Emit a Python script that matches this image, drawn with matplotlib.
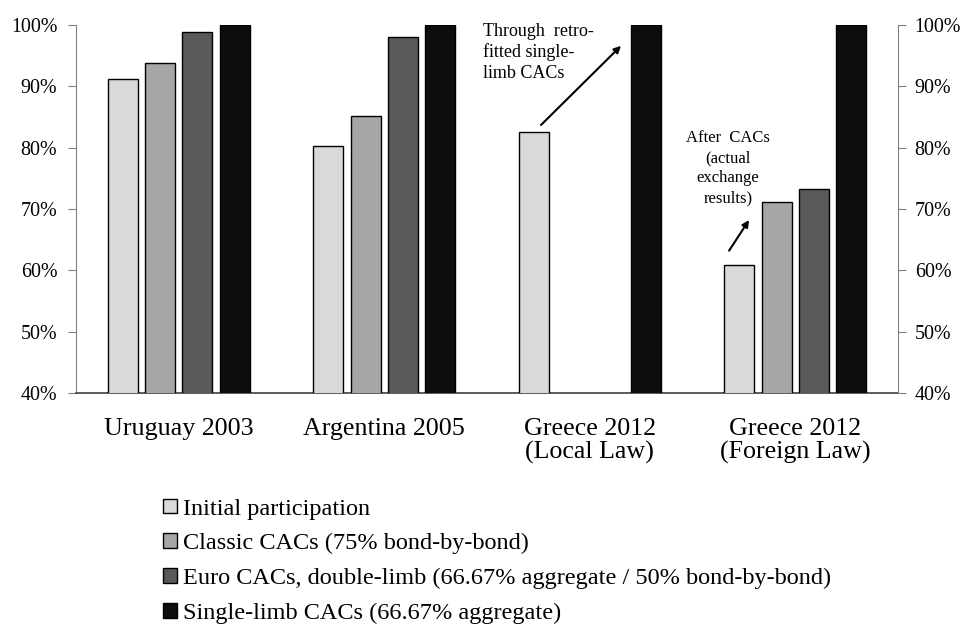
import numpy as np
import matplotlib.pyplot as plt
from matplotlib.ticker import PercentFormatter

plt.rcParams['font.family'] = ['Liberation Serif', 'DejaVu Serif']

categories = ['Uruguay 2003', 'Argentina 2005', 'Greece 2012\n(Local Law)', 'Greece 2012\n(Foreign Law)']
series_names = ['Initial participation',
                'Classic CACs (75% bond-by-bond)',
                'Euro CACs, double-limb (66.67% aggregate / 50% bond-by-bond)',
                'Single-limb CACs (66.67% aggregate)']
initial = [91.2, 80.2, 82.6, 60.9]
classic = [93.8, 85.2, np.nan, 71.1]
euro = [98.9, 98.0, np.nan, 73.3]
single = [100.0, 100.0, 100.0, 100.0]
colors = ['#d9d9d9', '#a6a6a6', '#595959', '#0d0d0d']
yticks = [40, 50, 60, 70, 80, 90, 100]

fig = plt.figure(figsize=(9.62, 6.24), dpi=100)
ax = fig.add_axes([0.079, 0.3702, 0.8545, 0.5898])

x = np.arange(len(categories))
width = 0.146
step = 0.1815
handles = []
for i, (vals, c, name) in enumerate(zip([initial, classic, euro, single], colors, series_names)):
    b = ax.bar(x + (i - 1.5) * step, vals, width, bottom=0, color=c, edgecolor='black',
               linewidth=1.0, label=name, zorder=3)
    handles.append(b)

ax.set_xlim(-0.5, 3.5)
ax.set_ylim(40, 100)
ax.set_yticks(yticks)
ax.yaxis.set_major_formatter(PercentFormatter(decimals=0))
ax.set_xticks(x)
ax.set_xticklabels(categories, fontsize=18.7, linespacing=1.03)
ax.tick_params(axis='x', length=0, pad=18)
ax.tick_params(axis='y', direction='out', length=6, color='#808080', labelsize=14.4, pad=7.5)

ax.spines['top'].set_visible(False)
ax.spines['right'].set_visible(False)
ax.spines['left'].set_color('#808080')
ax.spines['bottom'].set_color('#404040')
ax.spines['bottom'].set_linewidth(1.2)

ax2 = ax.twinx()
ax2.set_ylim(40, 100)
ax2.set_yticks(yticks)
ax2.yaxis.set_major_formatter(PercentFormatter(decimals=0))
ax2.tick_params(axis='y', direction='out', length=6, color='#808080', labelsize=14.4, pad=6)
for s in ['top', 'left', 'bottom']:
    ax2.spines[s].set_visible(False)
ax2.spines['right'].set_color('#808080')

# annotations
ax.text(1.48, 100.4, 'Through  retro-\nfitted single-\nlimb CACs', ha='left', va='top',
        fontsize=13, linespacing=1.27)
ax.annotate('', xy=(2.152, 96.6), xytext=(1.763, 83.7),
            arrowprops=dict(arrowstyle='-|>', color='black', lw=1.5, mutation_scale=10,
                            shrinkA=0, shrinkB=0))
ax.text(2.673, 82.8, 'After  CACs\n(actual\nexchange\nresults)', ha='center', va='top',
        fontsize=12, linespacing=1.32)
ax.annotate('', xy=(2.775, 68.2), xytext=(2.678, 63.2),
            arrowprops=dict(arrowstyle='-|>', color='black', lw=1.5, mutation_scale=10,
                            shrinkA=0, shrinkB=0))

fig.legend(handles=handles, labels=series_names, loc='upper left', bbox_to_anchor=(0.1598, 0.2166),
           frameon=False, fontsize=17.5, handlelength=0.56, handleheight=0.56, handletextpad=0.25,
           labelspacing=0.56, borderaxespad=0)

fig.savefig('out.png', dpi=100)
